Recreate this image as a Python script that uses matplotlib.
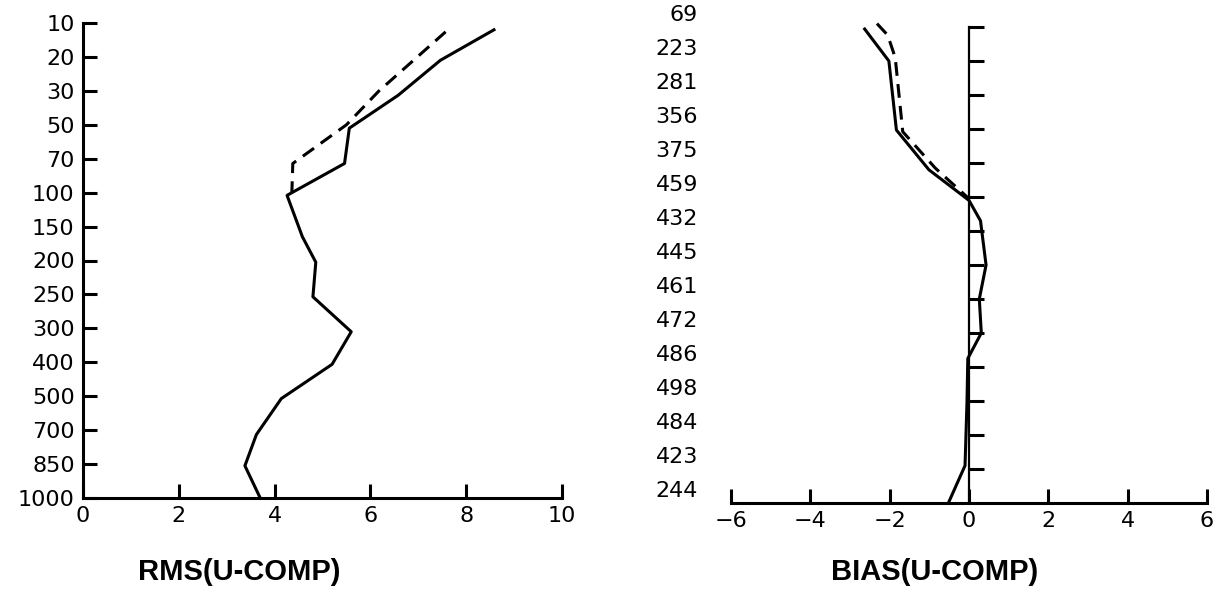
import matplotlib
matplotlib.use("Agg")
import matplotlib.pyplot as plt
import matplotlib.transforms as mtransforms

# pressure levels (hPa) for the left panel, sample counts for the right panel
levels = ["10", "20", "30", "50", "70", "100", "150", "200", "250", "300",
          "400", "500", "700", "850", "1000"]
counts = ["69", "223", "281", "356", "375", "459", "432", "445", "461", "472",
          "486", "498", "484", "423", "244"]

# RMS of u-component (level index positions)
rms_solid_pos = [0.2, 1.1, 2.13, 3.1, 4.14, 5.08, 6.3, 7.05, 8.07, 9.1, 10.06, 11.07, 12.13, 13.05, 14.0]
rms_solid = [8.58, 7.46, 6.58, 5.56, 5.46, 4.26, 4.58, 4.86, 4.80, 5.60, 5.20, 4.14, 3.62, 3.38, 3.70]
rms_dash_pos = [0.26, 1.0, 2.0, 3.0, 4.14, 5.0]
rms_dash = [7.57, 6.98, 6.18, 5.50, 4.38, 4.36]

# bias of u-component
bias_solid_pos = [0.06, 1.0, 3.03, 4.2, 5.1, 5.7, 7.0, 8.0, 9.0, 9.75, 11.0, 12.9, 14.0]
bias_solid = [-2.63, -2.02, -1.83, -1.01, 0.0, 0.29, 0.43, 0.26, 0.31, -0.03, -0.05, -0.1, -0.52]
bias_dash_pos = [-0.1, 0.24, 0.9, 3.08, 4.15, 5.05]
bias_dash = [-2.32, -2.05, -1.86, -1.67, -0.85, 0.0]

W, H = 1228, 604
fig = plt.figure(figsize=(W / 100, H / 100), dpi=100)

lw_axis = 2.2
lw_data = 2.2
tick_font = dict(family="DejaVu Sans", size=16)


def px_axes(x0, x1, ytop, ybot):
    return fig.add_axes([x0 / W, 1 - ybot / H, (x1 - x0) / W, (ybot - ytop) / H])


# ---- left panel: RMS ----
ax1 = px_axes(83, 562, 23, 498)
ax1.plot(rms_solid, rms_solid_pos, color="black", lw=lw_data, clip_on=False)
ax1.plot(rms_dash, rms_dash_pos, color="black", lw=lw_data, ls=(0, (4.5, 2.7)), clip_on=False)
ax1.set_xlim(0, 10)
ax1.set_ylim(14, 0)
ax1.set_xticks(range(0, 11, 2))
ax1.set_yticks(range(len(levels)))
ax1.set_yticklabels(levels)
for s in ["top", "right"]:
    ax1.spines[s].set_visible(False)
for s in ["left", "bottom"]:
    ax1.spines[s].set_linewidth(lw_axis)
ax1.tick_params(direction="in", length=10, width=lw_axis, pad=6)
for lab in ax1.get_xticklabels() + ax1.get_yticklabels():
    lab.set_fontfamily(tick_font["family"])
    lab.set_fontsize(tick_font["size"])

# ---- right panel: BIAS ----
ax2 = px_axes(731, 1207, 27, 503)
ax2.plot(bias_solid, bias_solid_pos, color="black", lw=lw_data, clip_on=False)
ax2.plot(bias_dash, bias_dash_pos, color="black", lw=lw_data, ls=(0, (4.5, 2.7)), clip_on=False)
ax2.set_xlim(-6, 6)
ax2.set_ylim(14, 0)
ax2.set_xticks(range(-6, 7, 2))
ax2.set_yticks(range(len(counts) - 1))
for s in ["top", "right"]:
    ax2.spines[s].set_visible(False)
ax2.spines["bottom"].set_linewidth(lw_axis)
ax2.spines["left"].set_position(("data", 0))
ax2.spines["left"].set_linewidth(1.6)
ax2.tick_params(axis="x", direction="in", length=10, width=lw_axis, pad=6)
ax2.tick_params(axis="y", direction="in", length=11, width=lw_axis, labelleft=False)
for lab in ax2.get_xticklabels():
    lab.set_fontfamily(tick_font["family"])
    lab.set_fontsize(tick_font["size"])

trans = mtransforms.blended_transform_factory(ax2.transAxes, ax2.transData)
for i, c in enumerate(counts):
    ax2.text(-0.069, i - 0.35, c, transform=trans, ha="right", va="center",
             fontfamily=tick_font["family"], fontsize=tick_font["size"])

# ---- panel titles ----
title_font = dict(family="Liberation Sans", weight="bold", size=21)
fig.text(239 / W, 1 - 572 / H, "RMS(U-COMP)", ha="center", va="center", **title_font)
fig.text(935 / W, 1 - 572 / H, "BIAS(U-COMP)", ha="center", va="center", **title_font)

fig.savefig("out.png", dpi=100)
